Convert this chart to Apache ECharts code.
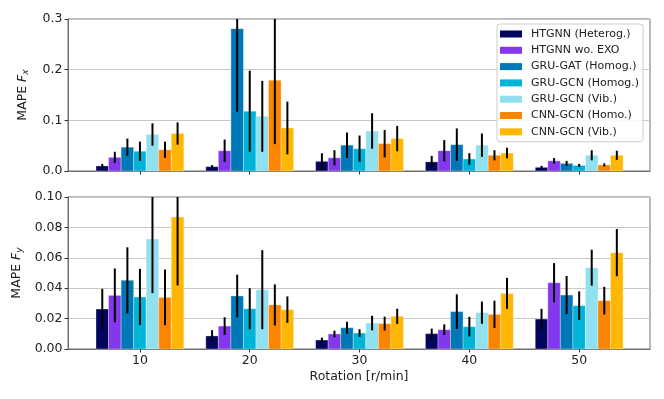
<!DOCTYPE html>
<html>
<head>
<meta charset="utf-8">
<script src="https://cdn.jsdelivr.net/npm/echarts@6/dist/echarts.min.js"></script>
<style>
  html, body { margin: 0; padding: 0; background: #fff; }
  #chart { width: 664px; height: 399px; }
</style>
</head>
<body>
<div id="chart"></div>
<script>
const rotations = [10, 20, 30, 40, 50];
const models = ['HTGNN (Heterog.)', 'HTGNN wo. EXO', 'GRU-GAT (Homog.)', 'GRU-GCN (Homog.)', 'GRU-GCN (Vib.)', 'CNN-GCN (Homo.)', 'CNN-GCN (Vib.)'];
const colors = ['#03045e', '#8338ec', '#0077b6', '#00b4d8', '#90e0ef', '#fb8500', '#ffb703'];

// MAPE Fx, one array per model, one value per rotation
const fxHtgnn = [0.010, 0.0086, 0.019, 0.018, 0.0072];
const fxWoExo = [0.027, 0.040, 0.026, 0.040, 0.020];
const fxGruGat = [0.047, 0.281, 0.051, 0.052, 0.015];
const fxGruGcnHom = [0.039, 0.118, 0.044, 0.0237, 0.011];
const fxGruGcnVib = [0.072, 0.108, 0.079, 0.051, 0.031];
const fxCnnGcnHom = [0.042, 0.179, 0.054, 0.031, 0.012];
const fxCnnGcnVib = [0.074, 0.085, 0.064, 0.0355, 0.031];

// std of MAPE Fx
const fxErrHtgnn = [0.004, 0.003, 0.016, 0.012, 0.003];
const fxErrWoExo = [0.011, 0.022, 0.015, 0.021, 0.0055];
const fxErrGruGat = [0.017, 0.164, 0.025, 0.032, 0.005];
const fxErrGruGcnHom = [0.019, 0.080, 0.026, 0.0115, 0.003];
const fxErrGruGcnVib = [0.022, 0.070, 0.035, 0.023, 0.010];
const fxErrCnnGcnHom = [0.016, 0.126, 0.027, 0.010, 0.003];
const fxErrCnnGcnVib = [0.022, 0.052, 0.025, 0.0105, 0.009];

// MAPE Fy
const fyHtgnn = [0.0263, 0.0086, 0.0059, 0.0101, 0.0197];
const fyWoExo = [0.0353, 0.0151, 0.0099, 0.0127, 0.0436];
const fyGruGat = [0.0452, 0.0349, 0.014, 0.0246, 0.0355];
const fyGruGcnHom = [0.0342, 0.0265, 0.0105, 0.0147, 0.0285];
const fyGruGcnVib = [0.0724, 0.039, 0.0171, 0.0239, 0.0535];
const fyCnnGcnHom = [0.034, 0.029, 0.0167, 0.0228, 0.0318];
const fyCnnGcnVib = [0.0868, 0.0259, 0.0215, 0.0366, 0.0634];

// std of MAPE Fy
const fyErrHtgnn = [0.0133, 0.0038, 0.0016, 0.0033, 0.0067];
const fyErrWoExo = [0.0177, 0.0058, 0.0022, 0.0035, 0.0129];
const fyErrGruGat = [0.0217, 0.014, 0.0039, 0.0114, 0.0125];
const fyErrGruGcnHom = [0.0185, 0.0135, 0.0025, 0.0065, 0.0094];
const fyErrGruGcnVib = [0.0356, 0.026, 0.0048, 0.0073, 0.0118];
const fyErrCnnGcnHom = [0.0183, 0.0135, 0.0046, 0.009, 0.0091];
const fyErrCnnGcnVib = [0.045, 0.0087, 0.005, 0.0102, 0.0155];

const fxTicks = [0, 0.1, 0.2, 0.3];
const fyTicks = [0, 0.02, 0.04, 0.06, 0.08, 0.10];

const fxMeans = [fxHtgnn, fxWoExo, fxGruGat, fxGruGcnHom, fxGruGcnVib, fxCnnGcnHom, fxCnnGcnVib];
const fxErrs = [fxErrHtgnn, fxErrWoExo, fxErrGruGat, fxErrGruGcnHom, fxErrGruGcnVib, fxErrCnnGcnHom, fxErrCnnGcnVib];
const fyMeans = [fyHtgnn, fyWoExo, fyGruGat, fyGruGcnHom, fyGruGcnVib, fyCnnGcnHom, fyCnnGcnVib];
const fyErrs = [fyErrHtgnn, fyErrWoExo, fyErrGruGat, fyErrGruGcnHom, fyErrGruGcnVib, fyErrCnnGcnHom, fyErrCnnGcnVib];

const barW = 8 / 7;
const font = 'DejaVu Sans';
const fs = 12.5;
const frame = '#707070';

const makeRender = (k) => (params, api) => {
  const x = api.value(0) + (k - 3) * barW;
  const v = api.value(1);
  const e = api.value(2);
  const cs = params.coordSys;
  const p0 = api.coord([x - barW / 2, v]);
  const p1 = api.coord([x + barW / 2, 0]);
  const rect = echarts.graphic.clipRectByRect(
    { x: p0[0], y: p0[1], width: p1[0] - p0[0], height: p1[1] - p0[1] }, cs);
  const top = api.coord([x, v + e]);
  const bot = api.coord([x, v - e]);
  return {
    type: 'group',
    children: [
      { type: 'rect', shape: rect, style: { fill: colors[k], stroke: 'rgba(255,255,255,0.4)', lineWidth: 0.8 } },
      { type: 'line', shape: { x1: top[0], y1: Math.max(top[1], cs.y), x2: bot[0], y2: bot[1] },
        style: { stroke: '#000', lineWidth: 2 } }
    ]
  };
};

const buildSeries = (means, errs, idx) => models.map((name, k) => ({
  name,
  type: 'custom',
  xAxisIndex: idx,
  yAxisIndex: idx,
  itemStyle: { color: colors[k] },
  renderItem: makeRender(k),
  data: rotations.map((r, j) => [r, means[k][j], errs[k][j]])
}));

const xAxisBase = (idx, showLabels) => ({
  type: 'value',
  gridIndex: idx,
  min: 3.45,
  max: 56.45,
  splitLine: { show: false },
  axisLine: { show: true, onZero: false, lineStyle: { color: frame, width: 1 } },
  axisTick: { show: true, customValues: rotations, length: 3.5, lineStyle: { color: '#333' } },
  axisLabel: { show: showLabels, customValues: rotations, margin: 5.5, color: '#222', fontFamily: font, fontSize: fs }
});

const yAxisBase = (idx, max, interval, digits, sub) => ({
  type: 'value',
  gridIndex: idx,
  min: 0,
  max,
  interval,
  name: '{a|MAPE }{b|F}{c|' + sub + '}',
  nameLocation: 'middle',
  nameRotate: 90,
  nameGap: 38,
  nameTextStyle: {
    rich: {
      a: { fontFamily: font, fontSize: fs, color: '#222', lineHeight: 15 },
      b: { fontFamily: font, fontSize: fs, color: '#222', fontStyle: 'italic', lineHeight: 15 },
      c: { fontFamily: font, fontSize: 9, color: '#222', fontStyle: 'italic', verticalAlign: 'bottom', padding: [6, 0, 0, 0] }
    }
  },
  axisLine: { show: true, lineStyle: { color: frame, width: 1 } },
  axisTick: { show: true, length: 3.5, lineStyle: { color: '#333' } },
  axisLabel: { margin: 5.5, color: '#222', fontFamily: font, fontSize: fs, formatter: (v) => v.toFixed(digits) },
  splitLine: { show: true, lineStyle: { color: '#c8c8c8', width: 1 } }
});

const chart = echarts.init(document.getElementById('chart'));

chart.setOption({
  animation: false,
  backgroundColor: '#fff',
  grid: [
    { left: 68, right: 14, top: 19, height: 152, show: true, borderColor: frame, borderWidth: 1, outerBoundsMode: 'none' },
    { left: 68, right: 14, top: 197, height: 152, show: true, borderColor: frame, borderWidth: 1, outerBoundsMode: 'none' }
  ],
  legend: {
    data: models,
    orient: 'vertical',
    left: 497,
    top: 24,
    icon: 'rect',
    itemWidth: 22,
    itemHeight: 7,
    itemGap: 4.3,
    padding: [4, 4, 4, 3],
    backgroundColor: 'rgba(255,255,255,0.85)',
    borderColor: '#cccccc',
    borderWidth: 1,
    borderRadius: 3,
    textStyle: { fontFamily: font, fontSize: 11, color: '#222', lineHeight: 12, padding: [0, 0, 0, 4] }
  },
  xAxis: [
    xAxisBase(0, false),
    Object.assign(xAxisBase(1, true), {
      name: 'Rotation [r/min]',
      nameLocation: 'middle',
      nameGap: 21,
      nameTextStyle: { fontFamily: font, fontSize: fs, color: '#222' }
    })
  ],
  yAxis: [
    yAxisBase(0, fxTicks[fxTicks.length - 1], fxTicks[1], 1, 'x'),
    yAxisBase(1, fyTicks[fyTicks.length - 1], fyTicks[1], 2, 'y')
  ],
  series: [...buildSeries(fxMeans, fxErrs, 0), ...buildSeries(fyMeans, fyErrs, 1)]
});
</script>
</body>
</html>
